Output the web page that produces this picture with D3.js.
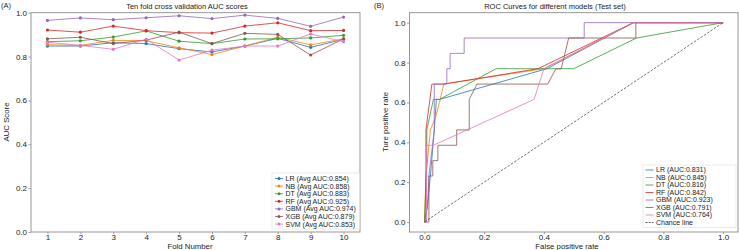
<!DOCTYPE html>
<html>
<head>
<meta charset="utf-8">
<script src="https://cdn.jsdelivr.net/npm/d3@7"></script>
<style>
  body { margin: 0; background: #fff; }
  svg { display: block; font-family: "Liberation Sans", Arial, sans-serif; }
</style>
</head>
<body>
<div id="chart"></div>
<script>
// ---- data: panel A (AUC per fold) ----
const folds = [1, 2, 3, 4, 5, 6, 7, 8, 9, 10]
const models = ["LR", "NB", "DT", "RF", "GBM", "XGB", "SVM"]
const colors = ["#1f77b4", "#ff7f0e", "#2ca02c", "#d62728", "#9467bd", "#8c564b", "#e377c2"]
const avgAuc = ["0.854", "0.858", "0.883", "0.925", "0.974", "0.879", "0.853"]
const aucLR  = [0.848, 0.848, 0.863, 0.859, 0.836, 0.821, 0.848, 0.883, 0.842, 0.879]
const aucNB  = [0.854, 0.851, 0.874, 0.872, 0.840, 0.809, 0.848, 0.888, 0.853, 0.881]
const aucDT  = [0.868, 0.872, 0.889, 0.917, 0.870, 0.859, 0.880, 0.881, 0.885, 0.897]
const aucRF  = [0.921, 0.911, 0.939, 0.918, 0.909, 0.907, 0.939, 0.954, 0.918, 0.919]
const aucGBM = [0.965, 0.976, 0.968, 0.977, 0.986, 0.973, 0.989, 0.974, 0.938, 0.980]
const aucXGB = [0.881, 0.888, 0.859, 0.875, 0.911, 0.859, 0.906, 0.901, 0.807, 0.881]
const aucSVM = [0.865, 0.851, 0.833, 0.879, 0.784, 0.829, 0.848, 0.848, 0.903, 0.868]
const foldSeries = [aucLR, aucNB, aucDT, aucRF, aucGBM, aucXGB, aucSVM]
const yTicksA = [0, 0.2, 0.4, 0.6, 0.8, 1.0]

// ---- data: panel B (ROC curves, [fpr, tpr]) ----
const testAuc = ["0.831", "0.845", "0.816", "0.842", "0.923", "0.791", "0.764"]
const rocLR  = [[0,0],[0.01,0.077],[0.02,0.231],[0.033,0.462],[0.04,0.615],[0.05,0.615],[0.41,0.769],[0.7,1],[1,1]]
const rocNB  = [[0,0],[0.005,0.231],[0.02,0.462],[0.04,0.538],[0.065,0.692],[0.40,0.769],[0.7,1],[1,1]]
const rocDT  = [[0,0],[0.008,0.3],[0.008,0.462],[0.03,0.615],[0.05,0.615],[0.24,0.769],[0.5,0.769],[0.71,0.923],[1,1]]
const rocRF  = [[0,0],[0.005,0],[0.005,0.462],[0.025,0.692],[0.065,0.692],[0.38,0.769],[0.7,1],[1,1]]
const rocGBM = [[0,0],[0.01,0.077],[0.015,0.231],[0.033,0.462],[0.033,0.692],[0.075,0.692],[0.075,0.769],[0.086,0.769],[0.086,0.846],[0.133,0.846],[0.133,0.923],[0.535,0.923],[0.535,1],[1,1]]
const rocXGB = [[0,0],[0.015,0],[0.015,0.231],[0.028,0.231],[0.028,0.308],[0.045,0.308],[0.045,0.385],[0.108,0.385],[0.108,0.462],[0.15,0.462],[0.15,0.615],[0.176,0.692],[0.413,0.692],[0.44,0.769],[0.458,0.769],[0.483,0.923],[0.708,0.923],[0.708,1],[1,1]]
const rocSVM = [[0,0],[0.007,0],[0.007,0.385],[0.03,0.385],[0.367,0.615],[0.4,0.769],[0.7,1],[1,1]]
const rocSeries = [rocLR, rocNB, rocDT, rocRF, rocGBM, rocXGB, rocSVM]
const ticksB = [0, 0.2, 0.4, 0.6, 0.8, 1.0]

const width = 739, height = 250
const spine = "#8c8c8c"

const svg = d3.select("#chart").append("svg")
  .attr("width", width)
  .attr("height", height)

function styleAxis(g) {
  g.select(".domain").remove()
  g.selectAll(".tick line").attr("stroke", spine).attr("stroke-width", 0.8)
  g.selectAll(".tick text").attr("fill", "#222").attr("font-size", 8)
}

// ================= panel A =================
const boxA = {left: 31, right: 360, top: 12.7, bottom: 232}
const xA = d3.scaleLinear().domain([0.5, 10.5]).range([boxA.left, boxA.right])
const yA = d3.scaleLinear().domain([0, 1]).range([boxA.bottom, boxA.top])

svg.append("rect")
  .attr("x", boxA.left).attr("y", boxA.top)
  .attr("width", boxA.right - boxA.left).attr("height", boxA.bottom - boxA.top)
  .attr("fill", "none").attr("stroke", spine).attr("stroke-width", 0.9)

svg.append("g")
  .attr("transform", `translate(0,${boxA.bottom})`)
  .call(d3.axisBottom(xA).tickValues(folds).tickSize(2).tickPadding(0.5))
  .call(styleAxis)

svg.append("g")
  .attr("transform", `translate(${boxA.left},0)`)
  .call(d3.axisLeft(yA).tickValues(yTicksA).tickFormat(d3.format(".1f")).tickSize(2.5).tickPadding(1.5))
  .call(styleAxis)

const lineA = d3.line().x((d, i) => xA(folds[i])).y(d => yA(d))

foldSeries.forEach((s, k) => {
  svg.append("path")
    .datum(s)
    .attr("fill", "none")
    .attr("stroke", colors[k])
    .attr("stroke-width", 0.8)
    .attr("d", lineA)
  svg.append("g").selectAll("circle")
    .data(s)
    .enter().append("circle")
    .attr("cx", (d, i) => xA(folds[i]))
    .attr("cy", d => yA(d))
    .attr("r", 1.6)
    .attr("fill", colors[k])
})

svg.append("text").attr("x", 1).attr("y", 8).attr("font-size", 7.5).attr("fill", "#222").text("(A)")
svg.append("text").attr("x", 187).attr("y", 8.5).attr("text-anchor", "middle")
  .attr("font-size", 7.5).attr("fill", "#222").text("Ten fold cross validation AUC scores")
svg.append("text").attr("x", 190).attr("y", 249.3).attr("text-anchor", "middle")
  .attr("font-size", 7.8).attr("fill", "#222").text("Fold Number")
svg.append("text").attr("transform", "translate(8.5,122) rotate(-90)").attr("text-anchor", "middle")
  .attr("font-size", 7.8).attr("fill", "#222").text("AUC Score")

// legend A
const legA = svg.append("g").attr("transform", "translate(272,173)")
legA.append("rect").attr("width", 87.5).attr("height", 56).attr("fill", "#fff")
  .attr("stroke", "#ddd").attr("stroke-width", 0.6)
models.forEach((m, k) => {
  const yy = 5.5 + k * 7.6
  legA.append("line").attr("x1", 3).attr("x2", 11).attr("y1", yy).attr("y2", yy)
    .attr("stroke", colors[k]).attr("stroke-width", 0.8)
  legA.append("circle").attr("cx", 7).attr("cy", yy).attr("r", 1.5).attr("fill", colors[k])
  legA.append("text").attr("x", 13.5).attr("y", yy + 2.4).attr("font-size", 7).attr("fill", "#222")
    .text(`${m} (Avg AUC:${avgAuc[k]})`)
})

// ================= panel B =================
const boxB = {left: 409.5, right: 738, top: 12.7, bottom: 232}
const xB = d3.scaleLinear().domain([-0.05, 1.05]).range([boxB.left, boxB.right])
const yB = d3.scaleLinear().domain([-0.05, 1.05]).range([boxB.bottom, boxB.top])

svg.append("rect")
  .attr("x", boxB.left).attr("y", boxB.top)
  .attr("width", boxB.right - boxB.left).attr("height", boxB.bottom - boxB.top)
  .attr("fill", "none").attr("stroke", spine).attr("stroke-width", 0.9)

svg.append("g")
  .attr("transform", `translate(0,${boxB.bottom})`)
  .call(d3.axisBottom(xB).tickValues(ticksB).tickFormat(d3.format(".1f")).tickSize(2).tickPadding(0.5))
  .call(styleAxis)

svg.append("g")
  .attr("transform", `translate(${boxB.left},0)`)
  .call(d3.axisLeft(yB).tickValues(ticksB).tickFormat(d3.format(".1f")).tickSize(2.5).tickPadding(1.5))
  .call(styleAxis)

const lineB = d3.line().x(d => xB(d[0])).y(d => yB(d[1]))

rocSeries.forEach((s, k) => {
  svg.append("path")
    .datum(s)
    .attr("fill", "none")
    .attr("stroke", colors[k])
    .attr("stroke-width", 0.8)
    .attr("d", lineB)
})

svg.append("path")
  .datum([[0, 0], [1, 1]])
  .attr("fill", "none")
  .attr("stroke", "#333")
  .attr("stroke-width", 0.7)
  .attr("stroke-dasharray", "2.5,1.5")
  .attr("d", lineB)

svg.append("text").attr("x", 374).attr("y", 8).attr("font-size", 7.5).attr("fill", "#222").text("(B)")
svg.append("text").attr("x", 555).attr("y", 8.5).attr("text-anchor", "middle")
  .attr("font-size", 7.5).attr("fill", "#222").text("ROC Curves for different models (Test set)")
svg.append("text").attr("x", 567).attr("y", 249.3).attr("text-anchor", "middle")
  .attr("font-size", 7.8).attr("fill", "#222").text("False positive rate")
svg.append("text").attr("transform", "translate(387.5,122) rotate(-90)").attr("text-anchor", "middle")
  .attr("font-size", 7.8).attr("fill", "#222").text("Ture positive rate")

// legend B
const legB = svg.append("g").attr("transform", "translate(643,165)")
legB.append("rect").attr("width", 93).attr("height", 62.5).attr("fill", "#fff")
  .attr("stroke", "#ddd").attr("stroke-width", 0.6)
const legBLabels = models.map((m, k) => `${m} (AUC:${testAuc[k]})`).concat(["Chance line"])
legBLabels.forEach((t, k) => {
  const yy = 5 + k * 7.5
  legB.append("line").attr("x1", 2.5).attr("x2", 10.5).attr("y1", yy).attr("y2", yy)
    .attr("stroke", k < 7 ? colors[k] : "#333").attr("stroke-width", 0.8)
    .attr("stroke-dasharray", k < 7 ? null : "2,1.2")
  legB.append("text").attr("x", 13).attr("y", yy + 2.4).attr("font-size", 7).attr("fill", "#222").text(t)
})
</script>
</body>
</html>
